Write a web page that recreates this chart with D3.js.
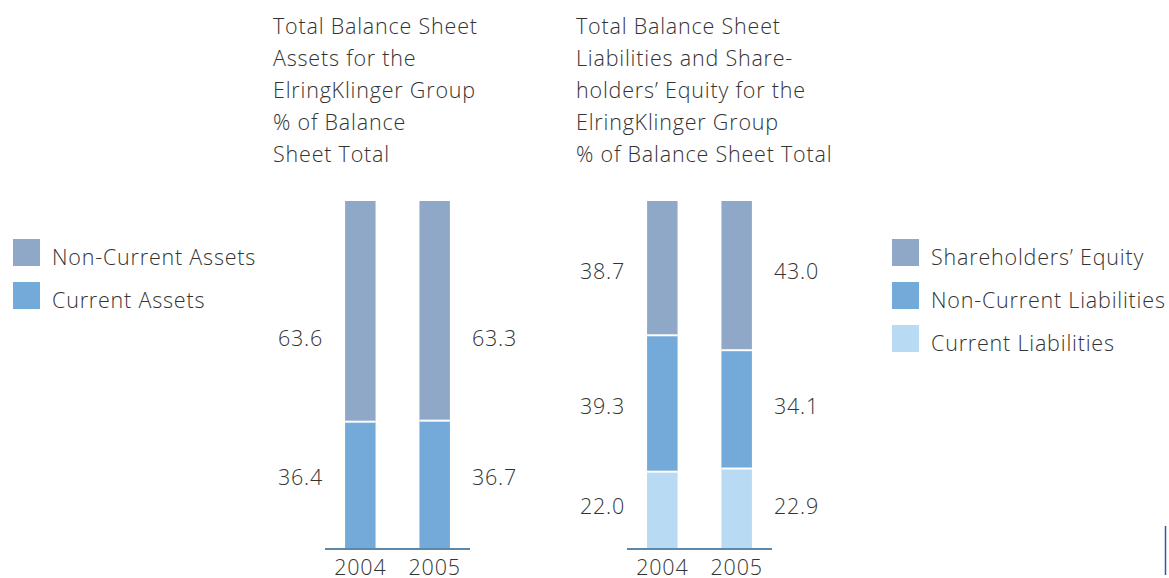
<!DOCTYPE html>
<html>
<head>
<meta charset="utf-8">
<script src="https://cdn.jsdelivr.net/npm/d3@7"></script>
<style>
  body { margin: 0; background: #fff; }
  text { font-family: "Open Sans", sans-serif; font-weight: 300; fill: #333; letter-spacing: 0.8px; }
</style>
</head>
<body>
<svg width="1169" height="578"></svg>
<script>
// data
var years = ["2004", "2005"];

var assetKeys = ["Current Assets", "Non-Current Assets"];
var currentAssets = [36.4, 36.7];
var nonCurrentAssets = [63.6, 63.3];

var liabKeys = ["Current Liabilities", "Non-Current Liabilities", "Shareholders\u2019 Equity"];
var currentLiab = [22.0, 22.9];
var nonCurrentLiab = [39.3, 34.1];
var equity = [38.7, 43.0];

var titleAssets = ["Total Balance Sheet", "Assets for the", "ElringKlinger Group", "% of Balance", "Sheet Total"];
var titleLiab = ["Total Balance Sheet", "Liabilities and Share-", "holders\u2019 Equity for the", "ElringKlinger Group", "% of Balance Sheet Total"];

var svg = d3.select("svg");

var y = d3.scaleLinear().domain([0, 100]).range([548, 201]);

var drawPanel = function(opt)
{
  var rows = years.map(function(yr, i) {
    var r = {year: yr};
    opt.keys.forEach(function(k, j) { r[k] = opt.series[j][i]; });
    return r;
  });
  var stacked = d3.stack().keys(opt.keys)(rows);

  var x = d3.scaleBand().domain(years)
            .range([opt.x0, opt.x0 + 145])
            .paddingInner(0.59).paddingOuter(0.27);

  var g = svg.append("g");

  // title
  g.append("text")
    .attr("x", opt.titleX).attr("y", 34)
    .style("font-size", "21.5px")
    .selectAll("tspan")
    .data(opt.title)
    .enter().append("tspan")
    .attr("x", opt.titleX)
    .attr("dy", function(d, i) { return i == 0 ? 0 : 32; })
    .text(function(d) { return d; });

  // bars
  var layers = g.selectAll("g.layer")
    .data(stacked)
    .enter().append("g")
    .attr("fill", function(d, i) { return opt.colors[i]; });

  layers.selectAll("rect")
    .data(function(d) { return d; })
    .enter().append("rect")
    .attr("x", function(d) { return x(d.data.year); })
    .attr("width", x.bandwidth())
    .attr("y", function(d) { return y(d[1]); })
    .attr("height", function(d) { return y(d[0]) - y(d[1]); });

  // white separators
  stacked.slice(0, -1).forEach(function(layer) {
    g.selectAll(null)
      .data(layer)
      .enter().append("line")
      .attr("x1", function(d) { return x(d.data.year); })
      .attr("x2", function(d) { return x(d.data.year) + x.bandwidth(); })
      .attr("y1", function(d) { return y(d[1]); })
      .attr("y2", function(d) { return y(d[1]); })
      .attr("stroke", "#fff")
      .attr("stroke-width", 2);
  });

  // value labels: 2004 left of bar, 2005 right of bar, same row height per layer
  stacked.forEach(function(layer, li) {
    var first = layer[0];
    var ly = y((first[0] + first[1]) / 2) + opt.nudge[li] + 8;
    g.selectAll(null)
      .data(layer)
      .enter().append("text")
      .attr("x", function(d, i) {
        return i == 0 ? x(d.data.year) - 22 : x(d.data.year) + x.bandwidth() + 22;
      })
      .attr("y", ly)
      .attr("text-anchor", function(d, i) { return i == 0 ? "end" : "start"; })
      .style("font-size", "21.5px")
      .text(function(d) { return d3.format(".1f")(d[1] - d[0]); });
  });

  // axis
  g.append("line")
    .attr("x1", opt.x0).attr("x2", opt.x0 + 145)
    .attr("y1", 549).attr("y2", 549)
    .attr("stroke", "#5b88ab").attr("stroke-width", 2);

  g.selectAll(null)
    .data(years)
    .enter().append("text")
    .attr("x", function(d) { return x(d) + x.bandwidth() / 2; })
    .attr("y", 575)
    .attr("text-anchor", "middle")
    .style("font-size", "21.5px")
    .text(function(d) { return d; });

  // legend (top entry first)
  var legend = g.selectAll("g.leg")
    .data(opt.keys.slice().reverse())
    .enter().append("g")
    .attr("transform", function(d, i) { return "translate(" + opt.legX + "," + (239 + i * 43) + ")"; });

  legend.append("rect")
    .attr("width", 27).attr("height", 27)
    .attr("fill", function(d, i) { return opt.colors[opt.keys.length - 1 - i]; });

  legend.append("text")
    .attr("x", 39).attr("y", 26)
    .style("font-size", "21.5px")
    .text(function(d) { return d; });
};

drawPanel({
  keys: assetKeys,
  series: [currentAssets, nonCurrentAssets],
  colors: ["#74aad9", "#8fa8c8"],
  title: titleAssets, titleX: 273,
  x0: 325, legX: 13,
  nudge: [-8, 27]
});

drawPanel({
  keys: liabKeys,
  series: [currentLiab, nonCurrentLiab, equity],
  colors: ["#b8daf2", "#74aad9", "#8fa8c8"],
  title: titleLiab, titleX: 576,
  x0: 627, legX: 892,
  nudge: [-4, 3, 3]
});

// small mark bottom right
svg.append("line")
  .attr("x1", 1165.5).attr("x2", 1165.5).attr("y1", 526).attr("y2", 575)
  .attr("stroke", "#2a5caa").attr("stroke-width", 1.5);
</script>
</body>
</html>
